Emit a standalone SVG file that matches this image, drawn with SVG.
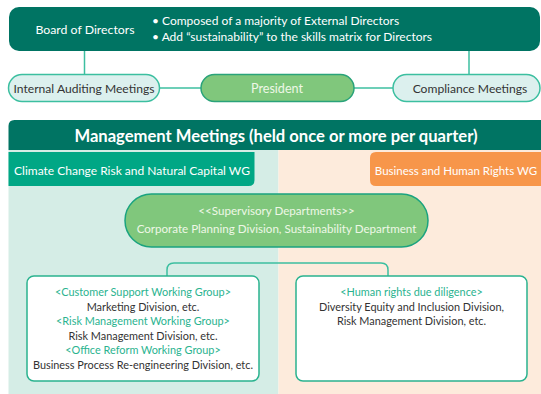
<svg xmlns="http://www.w3.org/2000/svg" width="541" height="394" viewBox="0 0 541 394">
<style>
text{font-family:Lato,"Liberation Sans",sans-serif;}
.w{fill:#ffffff;}
.d{fill:#333333;}
.g{fill:#2ab38f;}
.pill{fill:#dcf0ee;stroke:#3cbfa0;stroke-width:1.5;}
.conn{fill:none;stroke:#3cbfa0;stroke-width:1.5;}
.box{fill:#ffffff;stroke:#2ab38f;stroke-width:1.5;}
</style>
<rect x="8.5" y="150" width="270" height="244" fill="#d5ede6"/>
<rect x="278.5" y="150" width="263" height="244" fill="#fdebdc"/>
<g id="connectors">
<line class="conn" x1="84.5" y1="50" x2="84.5" y2="75"/>
<line class="conn" x1="469" y1="50" x2="469" y2="75"/>
<line class="conn" x1="160" y1="88" x2="201" y2="88"/>
<line class="conn" x1="354" y1="88" x2="393" y2="88"/>
<path class="conn" d="M167 276 V270 Q167 263 174 263 H381 Q388 263 388 270 V276"/>
</g>
<g id="board">
<rect x="9" y="7" width="531" height="44" rx="10" fill="#007463"/>
<text class="w" x="85" y="33.5" font-size="12.3" text-anchor="middle">Board of Directors</text>
<text class="w" x="152" y="25" font-size="12">• Composed of a majority of External Directors</text>
<text class="w" x="152" y="41" font-size="12">• Add “sustainability” to the skills matrix for Directors</text>
</g>
<g id="internal">
<rect class="pill" x="8.5" y="74.5" width="151" height="27" rx="13.5"/>
<text class="d" x="84" y="92.5" font-size="12.1" text-anchor="middle">Internal Auditing Meetings</text>
</g>
<g id="president">
<rect x="201" y="74.5" width="153" height="27" rx="13.5" fill="#80c77c" stroke="#2aa37a" stroke-width="1.5"/>
<text x="277" y="92.5" font-size="12.6" text-anchor="middle" fill="#eef7e6">President</text>
</g>
<g id="compliance">
<rect class="pill" x="393" y="74.5" width="147" height="27" rx="13.5"/>
<text class="d" x="470" y="92.5" font-size="12.1" text-anchor="middle">Compliance Meetings</text>
</g>
<g id="management">
<path d="M8.5 150 V126 Q8.5 120 14.5 120 H541 V150 Z" fill="#007463"/>
<text class="w" x="276" y="141.5" font-size="16.6" font-weight="bold" text-anchor="middle">Management Meetings (held once or more per quarter)</text>
</g>
<g id="climate-wg">
<path d="M8.5 152 H254.5 V180 Q254.5 186 248.5 186 H8.5 Z" fill="#00a785"/>
<text class="w" x="132" y="174.5" font-size="12" text-anchor="middle">Climate Change Risk and Natural Capital WG</text>
</g>
<g id="human-rights-wg">
<path d="M541 152 V186 H376 Q370 186 370 180 V158 Q370 152 376 152 Z" fill="#f7964a"/>
<text class="w" x="456" y="174.5" font-size="11.5" text-anchor="middle">Business and Human Rights WG</text>
</g>
<g id="supervisory">
<rect x="125" y="194" width="303" height="53" rx="26.5" fill="#80c77c" stroke="#1aa37f" stroke-width="1.5"/>
<text x="276.5" y="215" font-size="11.6" text-anchor="middle" fill="#eef7e6">&lt;&lt;Supervisory Departments&gt;&gt;</text>
<text x="276.5" y="233" font-size="11.6" text-anchor="middle" fill="#eef7e6">Corporate Planning Division, Sustainability Department</text>
</g>
<g id="climate-groups">
<rect class="box" x="27" y="276" width="232" height="105" rx="7"/>
<g font-size="10.9" text-anchor="middle">
<text class="g" x="143" y="296">&lt;Customer Support Working Group&gt;</text>
<text class="d" x="143" y="310.5">Marketing Division, etc.</text>
<text class="g" x="143" y="325">&lt;Risk Management Working Group&gt;</text>
<text class="d" x="143" y="339.5">Risk Management Division, etc.</text>
<text class="g" x="143" y="354">&lt;Office Reform Working Group&gt;</text>
<text class="d" x="143" y="368.5">Business Process Re-engineering Division, etc.</text>
</g>
</g>
<g id="human-rights-groups">
<rect class="box" x="296" y="276" width="231" height="105" rx="7"/>
<g font-size="10.9" text-anchor="middle">
<text class="g" x="411.5" y="296">&lt;Human rights due diligence&gt;</text>
<text class="d" x="411.5" y="310.5">Diversity Equity and Inclusion Division,</text>
<text class="d" x="411.5" y="325">Risk Management Division, etc.</text>
</g>
</g>
</svg>
